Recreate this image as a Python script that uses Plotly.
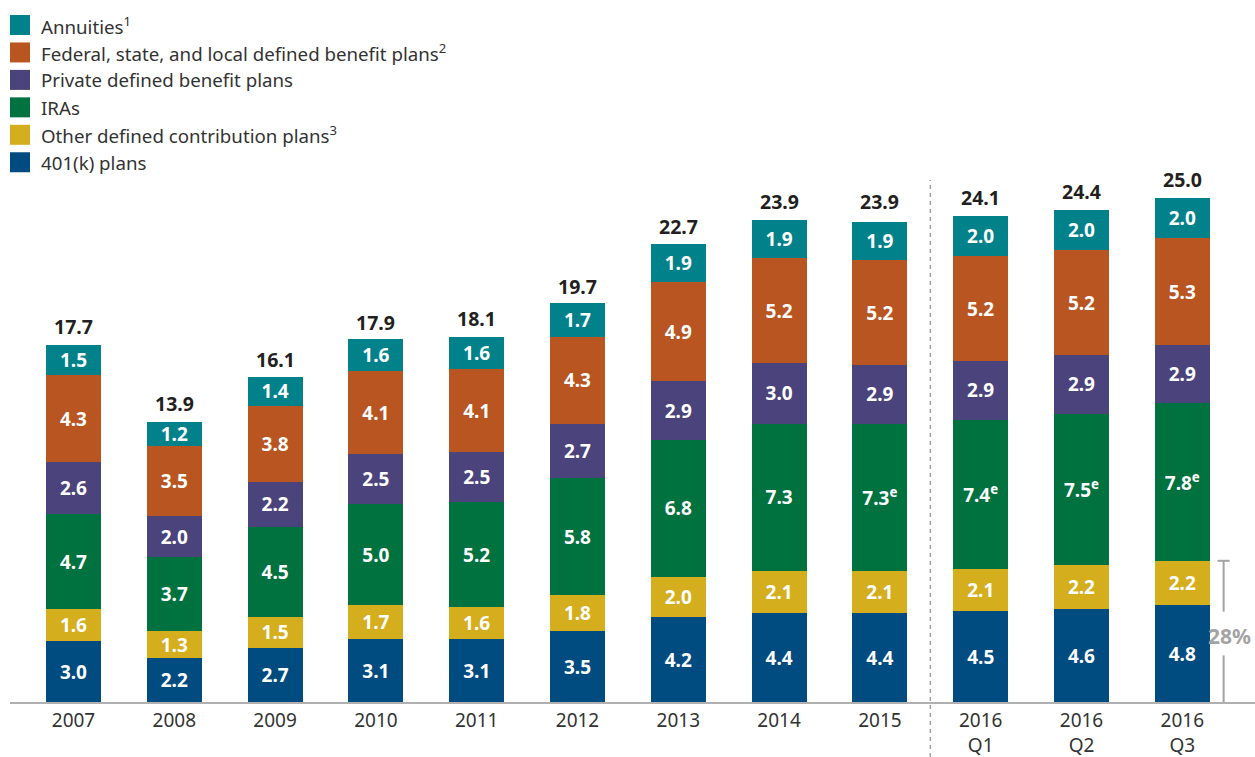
import plotly.graph_objects as go

categories = ["2007", "2008", "2009", "2010", "2011", "2012", "2013", "2014", "2015",
              "2016<br>Q1", "2016<br>Q2", "2016<br>Q3"]
k401 = [3.0, 2.2, 2.7, 3.1, 3.1, 3.5, 4.2, 4.4, 4.4, 4.5, 4.6, 4.8]
other_dc = [1.6, 1.3, 1.5, 1.7, 1.6, 1.8, 2.0, 2.1, 2.1, 2.1, 2.2, 2.2]
iras = [4.7, 3.7, 4.5, 5.0, 5.2, 5.8, 6.8, 7.3, 7.3, 7.4, 7.5, 7.8]
iras_estimated = [False] * 8 + [True] * 4
private_db = [2.6, 2.0, 2.2, 2.5, 2.5, 2.7, 2.9, 3.0, 2.9, 2.9, 2.9, 2.9]
gov_db = [4.3, 3.5, 3.8, 4.1, 4.1, 4.3, 4.9, 5.2, 5.2, 5.2, 5.2, 5.3]
annuities = [1.5, 1.2, 1.4, 1.6, 1.6, 1.7, 1.9, 1.9, 1.9, 2.0, 2.0, 2.0]
totals = [17.7, 13.9, 16.1, 17.9, 18.1, 19.7, 22.7, 23.9, 23.9, 24.1, 24.4, 25.0]
share_label = "28%"

series = [
    ("401(k) plans", k401, "#004B80"),
    ("Other defined contribution plans<sup>3</sup>", other_dc, "#D4AE1C"),
    ("IRAs", iras, "#00723F"),
    ("Private defined benefit plans", private_db, "#4B437C"),
    ("Federal, state, and local defined benefit plans<sup>2</sup>", gov_db, "#B85521"),
    ("Annuities<sup>1</sup>", annuities, "#01828A"),
]

FONT = "Noto Sans"
x = list(range(len(categories)))
fig = go.Figure()

for name, vals, color in series:
    if vals is iras:
        txt = [f"{v:.1f}<sup>e</sup>" if e else f"{v:.1f}" for v, e in zip(vals, iras_estimated)]
    else:
        txt = [f"{v:.1f}" for v in vals]
    fig.add_trace(go.Bar(
        x=x, y=vals, name=name, marker=dict(color=color, line=dict(width=0)),
        width=0.546, text=txt, textposition="inside", insidetextanchor="middle",
        textangle=0, textfont=dict(family=FONT, size=19, color="white", weight="bold"),
        showlegend=False, hoverinfo="skip",
    ))

# Layout geometry (pixels)
L, R, T, B = 10, 0, 190, 55
W, H = 1255, 757
pw, ph = W - L - R, H - T - B


def xp(px):
    return (px - L) / pw


def yp(py):
    return (H - B - py) / ph


shapes = []
annotations = []

# Totals above bars
for xi, t in zip(x, totals):
    annotations.append(dict(xref="x", yref="y", x=xi, y=t, text=f"{t:.1f}", showarrow=False,
                            xanchor="center", yanchor="middle", yshift=18,
                            font=dict(family=FONT, size=19.5, color="#231F20", weight="bold")))

# Manual legend (top to bottom)
legend_items = list(reversed(series))
for i, (name, vals, color) in enumerate(legend_items):
    top = 15 + i * 27.45
    shapes.append(dict(type="rect", xref="paper", yref="paper",
                       x0=xp(10), x1=xp(30), y0=yp(top + 20), y1=yp(top),
                       fillcolor=color, line=dict(width=0)))
    annotations.append(dict(xref="paper", yref="paper", x=xp(39), y=yp(top + 10),
                            text=name, showarrow=False, xanchor="left", yanchor="middle",
                            font=dict(family=FONT, size=18.7, color="#333333")))

# Dashed separator between 2015 and 2016 quarters
shapes.append(dict(type="line", xref="x", yref="paper", x0=8.5, x1=8.5,
                   y0=yp(757), y1=yp(180),
                   line=dict(color="#A0A0A0", width=1.5, dash="4px,4px")))

# 28% bracket on last bar (401k + other DC)
last = len(categories) - 1
bx = last + 0.41
btop = k401[last] + other_dc[last]
gray = "#A3A3A3"
shapes.append(dict(type="line", xref="x", yref="y", x0=bx, x1=bx, y0=btop, y1=btop * 0.64,
                   line=dict(color=gray, width=2)))
shapes.append(dict(type="line", xref="x", yref="y", x0=bx, x1=bx, y0=0, y1=btop * 0.33,
                   line=dict(color=gray, width=2)))
shapes.append(dict(type="line", xref="x", yref="y", x0=bx - 0.06, x1=bx + 0.06, y0=btop, y1=btop,
                   line=dict(color=gray, width=2)))
annotations.append(dict(xref="x", yref="y", x=bx + 0.06, y=btop * 0.465, text=share_label,
                        showarrow=False, xanchor="center", yanchor="middle",
                        font=dict(family=FONT, size=21, color=gray, weight="bold")))

fig.update_layout(
    barmode="stack",
    width=W, height=H,
    margin=dict(l=L, r=R, t=T, b=B, autoexpand=False),
    paper_bgcolor="white", plot_bgcolor="white",
    shapes=shapes, annotations=annotations,
    uniformtext=dict(minsize=19, mode="show"),
    xaxis=dict(range=[-0.63, -0.63 + pw / 100.8], tickvals=x, ticktext=categories,
               showgrid=False, zeroline=False, showline=True, linecolor="#B0B0B0",
               linewidth=2, ticks="", automargin=False,
               tickfont=dict(family=FONT, size=19, color="#333333")),
    yaxis=dict(range=[0, ph / 20.17], visible=False, showgrid=False, zeroline=False),
    font=dict(family=FONT),
)

fig.write_html("out.html")
